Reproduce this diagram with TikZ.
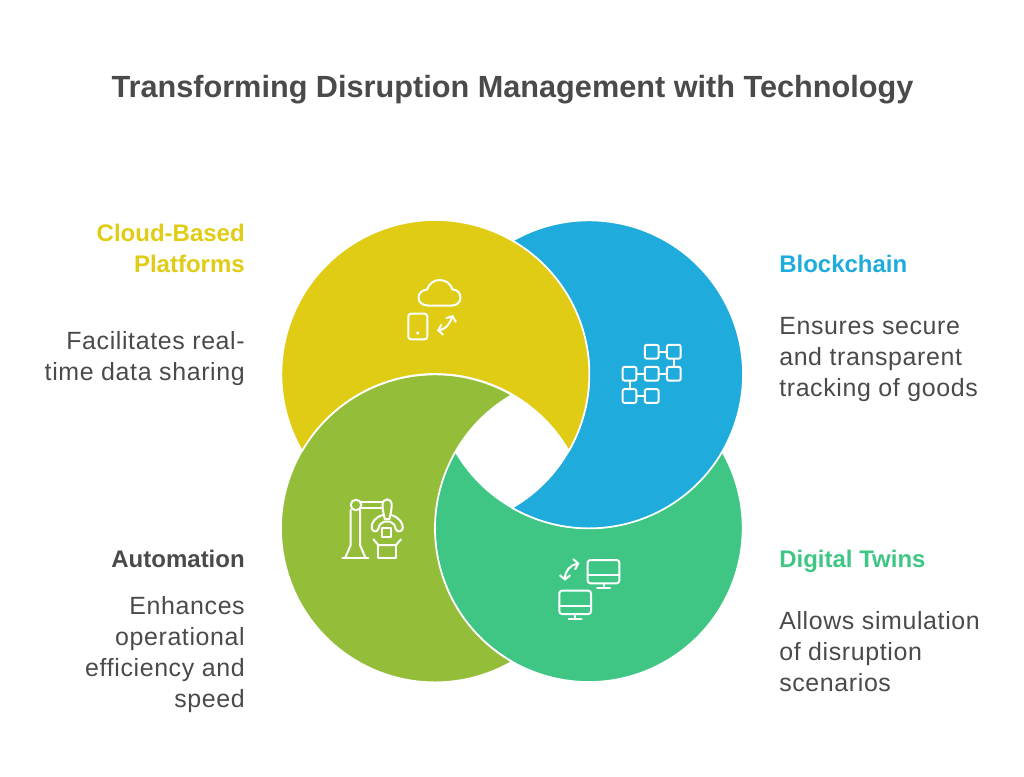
\documentclass[tikz,border=0pt]{standalone}
\usepackage{fontspec}
\setmainfont{Liberation Sans}
\newfontfamily\bodyfont[LetterSpace=2.5]{Liberation Sans}
\usetikzlibrary{arrows.meta}

\definecolor{cloudyellow}{HTML}{E0CC15}
\definecolor{chainblue}{HTML}{1FABDC}
\definecolor{twingreen}{HTML}{3FC685}
\definecolor{autoolive}{HTML}{94BE3A}
\definecolor{textgray}{HTML}{4A4A4A}

\begin{document}
\begin{tikzpicture}[x=0.75pt, y=-0.75pt]
   \tikzstyle{crescent}=[draw=white, line width=1.3pt, line join=round]
   \tikzstyle{heading}=[inner sep=0, font=\fontsize{18}{23.25}\selectfont\bfseries]
   \tikzstyle{lefttext}=[inner sep=0, anchor=base east, align=right, text=textgray, font=\fontsize{18.7}{23.25}\bodyfont]
   \tikzstyle{righttext}=[inner sep=0, anchor=base west, align=left, text=textgray, font=\fontsize{18.7}{23.25}\bodyfont]
   \tikzstyle{iconline}=[draw=white, line width=1.5pt, line cap=round, line join=round]
   \tikzstyle{swaparrow}=[iconline, {Straight Barb[length=3.2pt, width=8pt]}-{Straight Barb[length=3.2pt, width=8pt]}]
   \tikzstyle{chainbox}=[iconline, rectangle, rounded corners=1.6pt, minimum size=10.4pt, inner sep=0]

\useasboundingbox (0,0) rectangle (1024,776);

% crescents
\fill[crescent, fill=twingreen] (722,451) arc (-30:210:154) arc (150:30:154) -- cycle;
\fill[crescent, fill=autoolive] (512,395) arc (-60:-300:154) arc (120:240:154) -- cycle;
\fill[crescent, fill=chainblue] (512,241) arc (-120:120:154) arc (60:-60:154) -- cycle;
\fill[crescent, fill=cloudyellow] (302,451) arc (150:390:154) arc (-30:-150:154) -- cycle;

% texts
\node[inner sep=0, anchor=base, text=textgray, font=\fontsize{23}{29}\selectfont\bfseries] (heading) at (512.5,97) {Transforming Disruption Management with Technology};

\node[heading, anchor=base east, align=right, text=cloudyellow] (cloudhead) at (245,272) {Cloud-Based\\Platforms};
\node[lefttext] (clouddesc) at (245,380) {Facilitates real-\\time data sharing};
\node[heading, anchor=base west, text=chainblue] (chainhead) at (779,272) {Blockchain};
\node[righttext] (chaindesc) at (779,396) {Ensures secure\\and transparent\\tracking of goods};
\node[heading, anchor=base east, text=textgray] (autohead) at (245,567) {Automation};
\node[lefttext] (autodesc) at (245,707) {Enhances\\operational\\efficiency and\\speed};
\node[heading, anchor=base west, text=twingreen] (twinhead) at (779,567) {Digital Twins};
\node[righttext] (twindesc) at (779,691) {Allows simulation\\of disruption\\scenarios};

% cloud icon
\draw[iconline] (428,305.5) -- (452,305.5) .. controls (457,305.5) and (460.5,302) .. (460.5,297.5)
    .. controls (460.5,293) and (457,289.5) .. (452.5,289.5)
    .. controls (451,284) and (446,280) .. (439.5,280)
    .. controls (433.5,280) and (429,284) .. (427,289.5)
    .. controls (422,290) and (418.5,293.5) .. (418.5,297.5)
    .. controls (418.5,302) and (422,305.5) .. (428,305.5) -- cycle;
\draw[iconline, rounded corners=2pt] (408.3,313.7) rectangle (427.3,339.3);
\fill[white] (417.8,333) circle (1.8);
\draw[swaparrow] (437,330.5) .. controls (446,329) and (449,325) .. (453,315);

% chain icon
\node[chainbox] (chaina) at (651.7,351.7) {};
\node[chainbox] (chainb) at (673.8,351.7) {};
\node[chainbox] (chainc) at (629.5,373.7) {};
\node[chainbox] (chaind) at (651.7,373.7) {};
\node[chainbox] (chaine) at (673.8,373.7) {};
\node[chainbox] (chainf) at (629.5,396) {};
\node[chainbox] (chaing) at (651.7,396) {};
\draw[iconline] (chaina) -- (chainb);
\draw[iconline] (chainb) -- (chaine);
\draw[iconline] (chainc) -- (chaind);
\draw[iconline] (chaind) -- (chaine);
\draw[iconline] (chainc) -- (chainf);
\draw[iconline] (chainf) -- (chaing);

% robot icon
\draw[iconline] (342.3,558.3) -- (368.3,558.3);
\draw[iconline] (345,558.3) -- (350.7,545) -- (350.7,510);
\draw[iconline] (365.7,558.3) -- (360,545) -- (360,510);
\draw[iconline] (356,505) circle (5.3);
\draw[iconline] (361,501.7) -- (382.5,501.7);
\draw[iconline] (361,508.3) -- (382.5,508.3);
\draw[iconline] (382.5,505) .. controls (382.5,497.5) and (391.7,497.5) .. (391.7,505)
    .. controls (391.7,511) and (390,515) .. (389.5,519) -- (384.7,519) .. controls (384.2,515) and (382.5,511) .. (382.5,505) -- cycle;
\draw[iconline] (383,515) .. controls (375,517) and (371,523) .. (371.7,528)
    .. controls (372.5,532.5) and (377.5,532.5) .. (378.5,528.5) .. controls (379,525) and (381,522.5) .. (384,521.7)
    -- (390,521.7) .. controls (393,522.5) and (395,525) .. (395.5,528.5)
    .. controls (396.5,532.5) and (402,532.5) .. (402.8,528) .. controls (403,523) and (399,517) .. (391,515);
\draw[iconline] (381.7,528.3) rectangle (391,537.3);
\draw[iconline] (373.3,539.3) -- (378.3,545) -- (396,545) -- (401,539.3);
\draw[iconline] (378.3,545) -- (378.3,558.3) -- (396,558.3) -- (396,545);

% monitor icon
\draw[iconline, rounded corners=2pt] (587.7,560) rectangle (619.3,583.3);
\draw[iconline] (587.7,575) -- (619.3,575);
\draw[iconline] (603.5,583.3) -- (603.5,588.3);
\draw[iconline] (597,588.3) -- (610,588.3);
\draw[iconline, rounded corners=2pt] (559.3,590.7) rectangle (591,614);
\draw[iconline] (559.3,605.7) -- (591,605.7);
\draw[iconline] (575,614) -- (575,619.3);
\draw[iconline] (568.5,619.3) -- (581.5,619.3);
\draw[swaparrow] (565,580.7) .. controls (565,571) and (570,565) .. (579.5,563.3);

\end{tikzpicture}
\end{document}
